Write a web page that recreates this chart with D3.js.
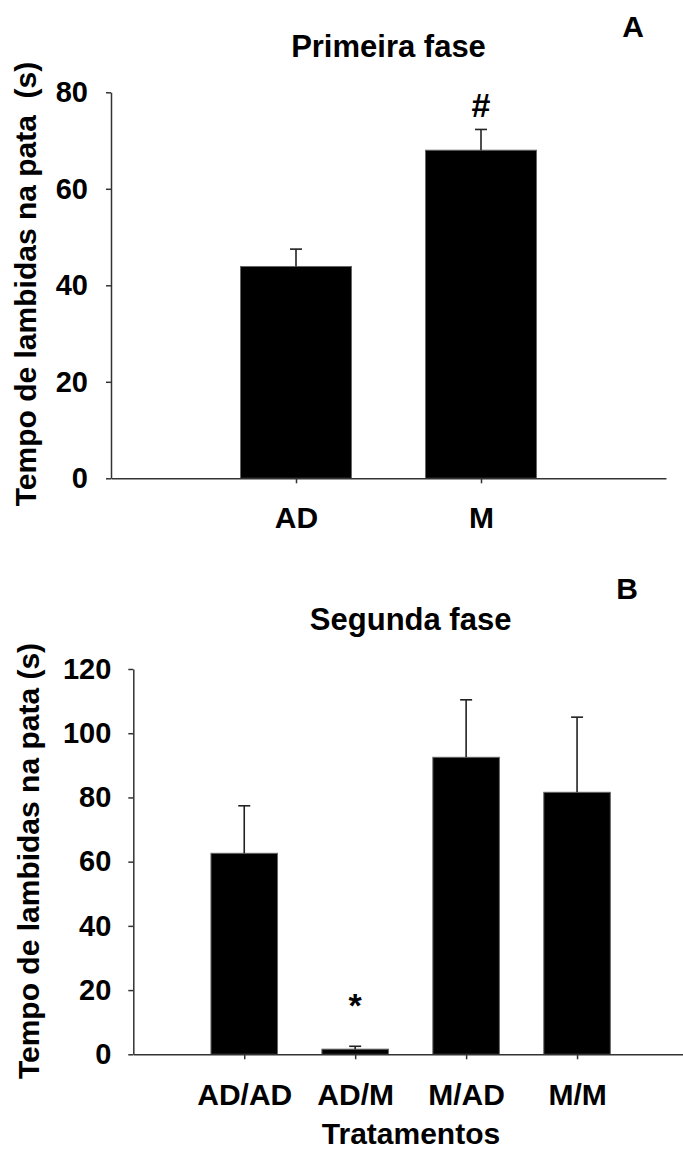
<!DOCTYPE html>
<head>
<meta charset="utf-8">
<style>
  body { margin: 0; background: white; }
  svg { background: white; font-family: 'Liberation Sans', Arial, sans-serif; font-weight: bold; }
  .axis path, .axis line { stroke: #333; stroke-width: 1.5; }
  .axis text { fill: #000; font-weight: bold; }
  .ylabel { white-space: pre; }
</style>
</head>
<body>
<script src="https://d3js.org/d3.v7.min.js"></script>
<script>
// PANEL A data
const catsA = ["AD", "M"];
const meansA = [43.9, 68.0];
const errA = [3.6, 4.3];
const ticksA = [0, 20, 40, 60, 80];
const marksA = ["", "#"];

// PANEL B data
const catsB = ["AD/AD", "AD/M", "M/AD", "M/M"];
const meansB = [62.6, 1.6, 92.5, 81.6];
const errB = [14.8, 0.9, 17.9, 23.4];
const ticksB = [0, 20, 40, 60, 80, 100, 120];
const marksB = ["", "*", "", ""];

const width = 683, height = 1153;

const svg = d3.select('body').append('svg')
  .attr('width', width)
  .attr('height', height);

function panel(opt) {
  const g = svg.append('g');
  const x = d3.scalePoint(opt.cats, [opt.left, opt.right]).padding(1);
  const y = d3.scaleLinear([0, opt.ymax], [opt.bottom, opt.top]);
  const bw = x.step() * 0.6;

  // bars
  g.selectAll('rect.bar')
    .data(opt.means)
    .join('rect')
    .attr('x', (d, i) => x(opt.cats[i]) - bw / 2)
    .attr('width', bw)
    .attr('y', d => y(d))
    .attr('height', d => y(0) - y(d))
    .attr('fill', '#000')
    .attr('stroke', '#666')
    .attr('stroke-width', 1);

  // error bars (upper only)
  g.selectAll('line.err')
    .data(opt.means)
    .join('line')
    .attr('x1', (d, i) => x(opt.cats[i]))
    .attr('x2', (d, i) => x(opt.cats[i]))
    .attr('y1', d => y(d))
    .attr('y2', (d, i) => y(d + opt.err[i]))
    .attr('stroke', '#222')
    .attr('stroke-width', 1.6);

  g.selectAll('line.cap')
    .data(opt.means)
    .join('line')
    .attr('x1', (d, i) => x(opt.cats[i]) - 6)
    .attr('x2', (d, i) => x(opt.cats[i]) + 6)
    .attr('y1', (d, i) => y(d + opt.err[i]))
    .attr('y2', (d, i) => y(d + opt.err[i]))
    .attr('stroke', '#222')
    .attr('stroke-width', 1.6);

  // significance marks
  g.selectAll('text.sig')
    .data(opt.marks)
    .join('text')
    .attr('x', (d, i) => x(opt.cats[i]))
    .attr('y', (d, i) => y(opt.means[i] + opt.err[i]) - opt.sigGap)
    .attr('text-anchor', 'middle')
    .attr('font-size', 34)
    .text(d => d);

  // axes
  g.append('g')
    .attr('class', 'axis')
    .attr('transform', `translate(${opt.left},0)`)
    .call(d3.axisLeft(y).tickValues(opt.ticks).tickSize(5).tickSizeOuter(0).tickPadding(opt.tickPad))
    .call(a => a.selectAll('text').attr('font-size', opt.tickFont).attr('font-family', null));

  g.append('g')
    .attr('class', 'axis')
    .attr('transform', `translate(0,${opt.bottom})`)
    .call(d3.axisBottom(x).tickSize(5).tickSizeOuter(0).tickPadding(opt.xPad))
    .call(a => a.selectAll('text').attr('font-size', opt.xFont).attr('font-family', null))
    .call(a => a.selectAll('.tick line').attr('stroke', '#777'));

  // title
  g.append('text')
    .attr('x', (opt.left + opt.right) / 2)
    .attr('y', opt.titleY)
    .attr('text-anchor', 'middle')
    .attr('font-size', 31)
    .text(opt.title);

  // panel letter
  g.append('text')
    .attr('x', opt.letterX)
    .attr('y', opt.letterY)
    .attr('text-anchor', 'middle')
    .attr('font-size', 30)
    .text(opt.letter);

  // y label
  g.append('text')
    .attr('class', 'ylabel')
    .attr('transform', `translate(${opt.ylabX},${opt.ylabY}) rotate(-90)`)
    .attr('text-anchor', 'middle')
    .attr('font-size', 30)
    .text(opt.ylab);
}

panel({
  cats: catsA, means: meansA, err: errA, ticks: ticksA, marks: marksA,
  ymax: 80, left: 111, right: 666, top: 92.3, bottom: 478.3,
  tickPad: 18, tickFont: 29, xPad: 23, xFont: 30, sigGap: 12.5,
  title: 'Primeira fase', titleY: 57,
  letter: 'A', letterX: 633, letterY: 37,
  ylab: 'Tempo de lambidas na pata  (s)', ylabX: 36, ylabY: 284
});

panel({
  cats: catsB, means: meansB, err: errB, ticks: ticksB, marks: marksB,
  ymax: 120, left: 133.3, right: 688, top: 669, bottom: 1054.3,
  tickPad: 17, tickFont: 29, xPad: 24, xFont: 30, sigGap: 29,
  title: 'Segunda fase', titleY: 630,
  letter: 'B', letterX: 627, letterY: 599,
  ylab: 'Tempo de lambidas na pata (s)', ylabX: 39, ylabY: 861
});

// x title for panel B
svg.append('text')
  .attr('x', 411)
  .attr('y', 1144)
  .attr('text-anchor', 'middle')
  .attr('font-size', 30)
  .text('Tratamentos');
</script>
</body>
